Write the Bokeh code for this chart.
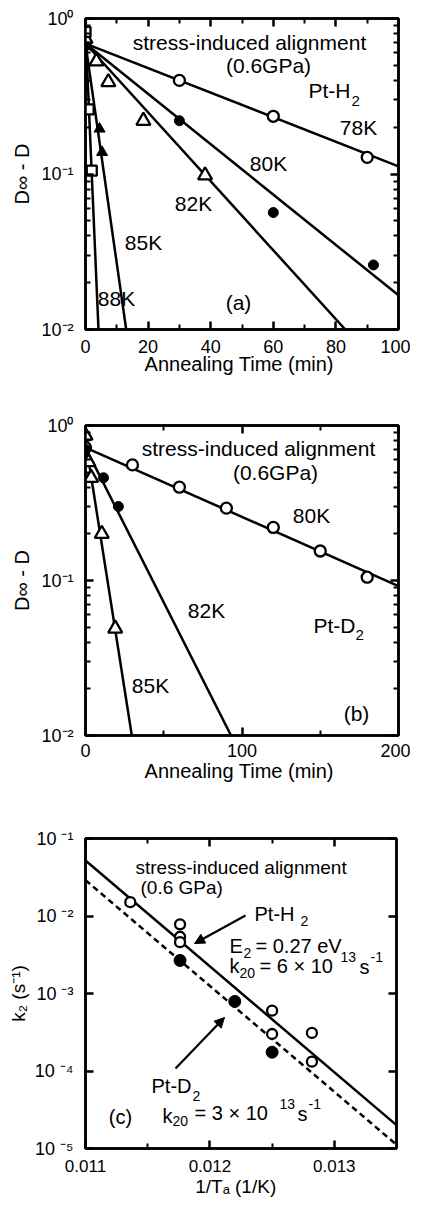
import math
from bokeh.plotting import figure
from bokeh.models import Range1d, LinearAxis, LogAxis, FixedTicker, Label, Arrow, NormalHead
from bokeh.layouts import column
from bokeh.embed import file_html
from bokeh.resources import INLINE

FONT = "Liberation Sans"

# ---------------- Panel (a): Pt-H2, D_inf - D vs annealing time ----------------
a78_t = [0, 30, 60, 90]
a78_d = [0.70, 0.40, 0.235, 0.128]
a80_t = [0, 30, 60, 92]
a80_d = [0.68, 0.22, 0.0565, 0.026]
a82_t = [0, 3.5, 7.3, 18.5, 38.2]
a82_d = [0.74, 0.53, 0.39, 0.22, 0.098]
a85_t = [0, 4.5, 5.3]
a85_d = [0.66, 0.195, 0.138]
a88_t = [0, 1.0, 2.0]
a88_d = [0.82, 0.26, 0.105]
# fitted lines (start / end)
a78_fit_t = [0, 100]
a78_fit_d = [0.69, 0.112]
a80_fit_t = [0, 100]
a80_fit_d = [0.69, 0.0166]
a82_fit_t = [0, 83]
a82_fit_d = [0.69, 0.01]
a85_fit_t = [0, 13.0]
a85_fit_d = [0.69, 0.01]
a88_fit_t = [0, 4.15]
a88_fit_d = [0.85, 0.01]

# ---------------- Panel (b): Pt-D2 ----------------
b80_t = [0, 30, 60, 90, 120, 150, 180]
b80_d = [0.72, 0.557, 0.40, 0.293, 0.22, 0.155, 0.105]
b82_t = [0, 11.5, 21]
b82_d = [0.70, 0.46, 0.30]
b85_t = [0, 1.9, 3.6, 10.4, 19]
b85_d = [0.86, 0.58, 0.46, 0.20, 0.049]
b80_fit_t = [0, 200]
b80_fit_d = [0.72, 0.092]
b82_fit_t = [0, 93]
b82_fit_d = [0.72, 0.01]
b85_fit_t = [0, 29.6]
b85_fit_d = [0.80, 0.01]

# ---------------- Panel (c): k2 vs 1/T ----------------
cH_x = [0.01136, 0.01176, 0.01176, 0.01176, 0.01250, 0.01250, 0.01282, 0.01282]
cH_k = [0.0151, 0.0078, 0.0054, 0.0046, 6.0e-4, 3.0e-4, 3.1e-4, 1.32e-4]
cD_x = [0.01176, 0.01220, 0.01250]
cD_k = [2.67e-3, 7.9e-4, 1.75e-4]
cH_fit_x = [0.011, 0.0135]
cH_fit_k = [0.052, 2.0e-5]
cD_fit_x = [0.011, 0.0135]
cD_fit_k = [0.029, 1.12e-5]

# ticks and titles
a_xticks = [0, 20, 40, 60, 80, 100]
a_xminor = [10, 30, 50, 70, 90]
b_xticks = [0, 100, 200]
b_xminor = [50, 150]
ab_yticks = [0.01, 0.1, 1.0]
ab_ylabels = ["10\u207b\u00b2", "10\u207b\u00b9", "10\u2070"]
ab_yminor = [m * 10.0 ** k for k in (-2, -1) for m in range(2, 10)]
c_xticks = [0.011, 0.012, 0.013]
c_xlabels = ["0.011", "0.012", "0.013"]
c_xminor = [0.0115, 0.0125]
c_yticks = [1e-05, 1e-04, 1e-03, 1e-02, 1e-01]
c_ylabels = ["10 \u207b\u2075", "10 \u207b\u2074", "10 \u207b\u00b3", "10 \u207b\u00b2", "10 \u207b\u00b9"]
ab_xtitle = "Annealing Time  (min)"
ab_ytitle = "D\u221e - D"
c_xtitle = "1/T\u2090   (1/K)"
c_ytitle = "k\u2082 (s\u207b\u00b9)"


def style_axis(ax, ticks, show=True, size=18, standoff=8):
    ax.axis_line_width = 2.5
    ax.axis_line_color = "black"
    ax.major_tick_line_width = 2.5
    ax.major_tick_line_color = "black"
    ax.minor_tick_line_width = 2
    ax.minor_tick_line_color = "black"
    ax.major_tick_in = 8
    ax.major_tick_out = 0
    ax.minor_tick_in = 5
    ax.minor_tick_out = 0
    ax.major_label_text_font = FONT
    ax.major_label_text_color = "black"
    if show:
        ax.major_label_text_font_size = f"{size}px"
        ax.major_label_standoff = standoff
    else:
        ax.major_label_text_font_size = "1px"
        ax.major_label_standoff = 0
        ax.major_label_overrides = {v: "" for v in ticks}
    ax.axis_label = None


def set_title(ax, text, size, standoff):
    ax.axis_label = text
    ax.axis_label_text_font = FONT
    ax.axis_label_text_font_size = f"{size}px"
    ax.axis_label_text_font_style = "normal"
    ax.axis_label_text_color = "black"
    ax.axis_label_standoff = standoff


def make_fig(xr, yr, fw, fh, bl, br, bt, bb, xt, xm, yt, ym, ylabels, xlabels=None,
             xsize=18, ysize=18, xstand=7, ystand=12):
    p = figure(frame_width=fw, frame_height=fh, x_range=Range1d(*xr), y_range=Range1d(*yr),
               y_axis_type="log", output_backend="svg", toolbar_location=None,
               min_border_left=bl, min_border_right=br, min_border_top=bt, min_border_bottom=bb,
               background_fill_color="white", border_fill_color="white")
    p.outline_line_color = "black"
    p.outline_line_width = 2.5
    p.grid.visible = False
    bottom = p.below[0]
    left = p.left[0]
    bottom.ticker = FixedTicker(ticks=xt, minor_ticks=xm)
    left.ticker = FixedTicker(ticks=yt, minor_ticks=ym)
    style_axis(bottom, xt, True, xsize, xstand)
    style_axis(left, yt, True, ysize, ystand)
    left.major_label_overrides = {v: s for v, s in zip(yt, ylabels)}
    if xlabels is not None:
        bottom.major_label_overrides = {v: s for v, s in zip(xt, xlabels)}
    top = LinearAxis(ticker=FixedTicker(ticks=xt, minor_ticks=xm))
    style_axis(top, xt, False)
    p.add_layout(top, "above")
    right = LogAxis(ticker=FixedTicker(ticks=yt, minor_ticks=ym))
    style_axis(right, yt, False)
    p.add_layout(right, "right")
    return p, bottom, left


def lab(p, conv, px, py, text, size, align="left", baseline="middle"):
    x, y = conv(px, py)
    p.add_layout(Label(x=x, y=y, text=text, text_font=FONT,
                       text_font_size=f"{size}px", text_align=align, text_baseline=baseline,
                       text_color="black"))


LW = 2.5

# ======================= Panel (a) =======================
pa, pa_x, pa_y = make_fig((0, 100), (0.01, 1.0), 313, 311, 79, 18, 18, 51,
                          a_xticks, a_xminor, ab_yticks, ab_yminor, ab_ylabels, xstand=10)
set_title(pa_x, ab_xtitle, 20, -3)
set_title(pa_y, ab_ytitle, 20, 5)
conv_a = lambda px, py: ((px - 87) * 100 / 313.0, 10 ** (-(py - 18) * 2 / 311.0))

for ft, fd in [(a78_fit_t, a78_fit_d), (a80_fit_t, a80_fit_d), (a82_fit_t, a82_fit_d),
               (a85_fit_t, a85_fit_d), (a88_fit_t, a88_fit_d)]:
    pa.line(ft, fd, line_color="black", line_width=LW)
pa.scatter(a78_t, a78_d, marker="circle", size=11, fill_color="white", line_color="black", line_width=2.3)
pa.scatter(a80_t, a80_d, marker="circle", size=10, fill_color="black", line_color="black", line_width=1)
pa.scatter(a82_t, a82_d, marker="triangle", size=14, fill_color="white", line_color="black", line_width=2.3)
pa.scatter(a85_t, a85_d, marker="triangle", size=11, fill_color="black", line_color="black", line_width=1)
pa.scatter(a88_t, a88_d, marker="square", size=10, fill_color="white", line_color="black", line_width=2.3)

A = 21
lab(pa, conv_a, 251, 42, "stress-induced alignment", A, "center")
lab(pa, conv_a, 270, 65, "(0.6GPa)", A, "center")
lab(pa, conv_a, 310, 90, "Pt-H", A)
lab(pa, conv_a, 353, 100, "2", 15)
lab(pa, conv_a, 360, 127, "78K", A, "center")
lab(pa, conv_a, 270, 163, "80K", A, "center")
lab(pa, conv_a, 195, 203, "82K", A, "center")
lab(pa, conv_a, 145, 242, "85K", A, "center")
lab(pa, conv_a, 118, 298, "88K", A, "center")
lab(pa, conv_a, 240, 302, "(a)", A, "center")

# ======================= Panel (b) =======================
pb, pb_x, pb_y = make_fig((0, 200), (0.01, 1.0), 313, 310, 79, 18, 45, 55,
                          b_xticks, b_xminor, ab_yticks, ab_yminor, ab_ylabels, xstand=8)
set_title(pb_x, ab_xtitle, 20, 0)
set_title(pb_y, ab_ytitle, 20, 5)
conv_b = lambda px, py: ((px - 87) * 200 / 313.0, 10 ** (-(py - 425) * 2 / 310.0))

for ft, fd in [(b80_fit_t, b80_fit_d), (b82_fit_t, b82_fit_d), (b85_fit_t, b85_fit_d)]:
    pb.line(ft, fd, line_color="black", line_width=LW)
pb.scatter(b80_t, b80_d, marker="circle", size=11, fill_color="white", line_color="black", line_width=2.3)
pb.scatter(b82_t, b82_d, marker="circle", size=10, fill_color="black", line_color="black", line_width=1)
pb.scatter(b85_t, b85_d, marker="triangle", size=14, fill_color="white", line_color="black", line_width=2.3)

lab(pb, conv_b, 260, 448, "stress-induced alignment", A, "center")
lab(pb, conv_b, 277, 472, "(0.6GPa)", A, "center")
lab(pb, conv_b, 313, 515, "80K", A, "center")
lab(pb, conv_b, 208, 610, "82K", A, "center")
lab(pb, conv_b, 315, 625, "Pt-D", A)
lab(pb, conv_b, 357, 634, "2", 15)
lab(pb, conv_b, 152, 685, "85K", A, "center")
lab(pb, conv_b, 358, 713, "(b)", A, "center")

# ======================= Panel (c) =======================
pc, pc_x, pc_y = make_fig((0.011, 0.0135), (1e-05, 1e-01), 311, 310, 85, 14, 48, 52,
                          c_xticks, c_xminor, c_yticks, [], c_ylabels, c_xlabels,
                          xsize=17, ysize=18, xstand=11, ystand=12)
set_title(pc_x, c_xtitle, 19, 1)
set_title(pc_y, c_ytitle, 19, 3)
conv_c = lambda px, py: (0.011 + (px - 93) * 0.0025 / 311.0, 10 ** (-1 - (py - 838) * 4 / 310.0))

pc.line(cH_fit_x, cH_fit_k, line_color="black", line_width=LW)
pc.line(cD_fit_x, cD_fit_k, line_color="black", line_width=LW, line_dash="6 4")
pc.scatter(cH_x, cH_k, marker="circle", size=10, fill_color="white", line_color="black", line_width=2.3)
pc.scatter(cD_x, cD_k, marker="circle", size=12, fill_color="black", line_color="black", line_width=1)

C = 19
F = 20
lab(pc, conv_c, 143, 867, "stress-induced alignment", C)
lab(pc, conv_c, 148, 887, "(0.6 GPa)", C)
lab(pc, conv_c, 262, 913, "Pt-H", F)
lab(pc, conv_c, 308, 920, "2", 14)
lab(pc, conv_c, 237, 945, "E", F)
lab(pc, conv_c, 251, 952, "2", 14)
lab(pc, conv_c, 263, 945, "= 0.27  eV", F)
lab(pc, conv_c, 237, 965, "k", F)
lab(pc, conv_c, 247, 972, "20", 14)
lab(pc, conv_c, 267, 965, "=  6 \u00d7 10", F)
lab(pc, conv_c, 348, 956, "13", 14)
lab(pc, conv_c, 367, 966, "s", F)
lab(pc, conv_c, 378, 956, "-1", 14)
lab(pc, conv_c, 159, 1085, "Pt-D", F)
lab(pc, conv_c, 200, 1095, "2", 14)
lab(pc, conv_c, 170, 1115, "k", F)
lab(pc, conv_c, 180, 1120, "20", 14)
lab(pc, conv_c, 202, 1112, "=  3  \u00d7 10", F)
lab(pc, conv_c, 287, 1103, "13", 14)
lab(pc, conv_c, 305, 1113, "s", F)
lab(pc, conv_c, 316, 1103, "-1", 14)
lab(pc, conv_c, 128, 1116, "(c)", F, "center")

# arrows
xs, ys = conv_c(253, 915)
xe, ye = conv_c(202, 943)
pc.add_layout(Arrow(end=NormalHead(size=10, fill_color="black", line_color="black"),
                    x_start=xs, y_start=ys, x_end=xe, y_end=ye, line_width=2.2, line_color="black"))
xs, ys = conv_c(183, 1068)
xe, ye = conv_c(232, 1017)
pc.add_layout(Arrow(end=NormalHead(size=10, fill_color="black", line_color="black"),
                    x_start=xs, y_start=ys, x_end=xe, y_end=ye, line_width=2.2, line_color="black"))

layout = column(pa, pb, pc, spacing=0)
open("out.html", "w").write(file_html(layout, INLINE))
